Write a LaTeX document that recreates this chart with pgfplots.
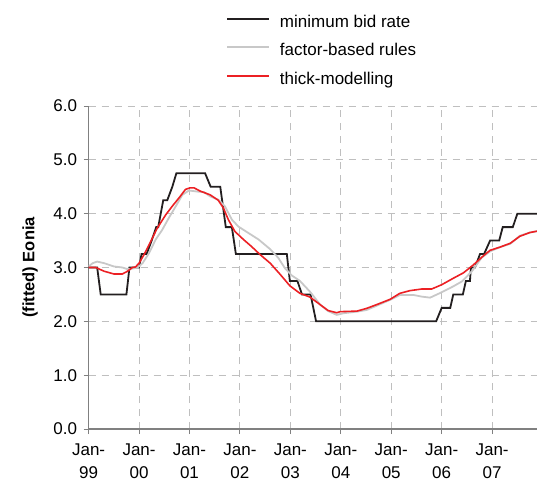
\documentclass[border=0pt]{standalone}
\usepackage{fontspec}
\setmainfont{Liberation Sans}
\usepackage{pgfplots}
\pgfplotsset{compat=1.18}
\definecolor{gridc}{RGB}{191,191,191}
\definecolor{axc}{RGB}{128,128,128}
\definecolor{redc}{RGB}{236,32,36}
\definecolor{grayc}{RGB}{200,200,200}
\definecolor{blackc}{RGB}{35,31,32}
\begin{document}
\begin{tikzpicture}
\useasboundingbox (-88.6pt,-61pt) rectangle (448.4pt,429pt);
\begin{axis}[
  at={(0pt,0pt)}, anchor=south west,
  scale only axis, width=448.4pt, height=323pt,
  xmin=1999, xmax=2007.89, ymin=0, ymax=6,
  axis x line*=bottom, axis y line*=left,
  axis line style={axc, line width=1.2pt},
  xtick={1999,2000,2001,2002,2003,2004,2005,2006,2007},
  ytick={0,1,2,3,4,5,6},
  xticklabels={{Jan-\\99},{Jan-\\00},{Jan-\\01},{Jan-\\02},{Jan-\\03},{Jan-\\04},{Jan-\\05},{Jan-\\06},{Jan-\\07}},
  xticklabel style={align=center, font=\fontsize{17}{23}\selectfont, yshift=-6pt},
  yticklabel style={font=\fontsize{17}{20}\selectfont, xshift=-3pt, /pgf/number format/.cd, fixed, fixed zerofill, precision=1},
  /pgf/number format/assume math mode=true,
  tick align=outside, major tick length=5pt,
  tick style={axc, line width=1pt},
  grid=major, major grid style={gridc, dash pattern=on 7pt off 6pt, line width=1pt},
  ylabel={(fitted) Eonia},
  ylabel style={font=\fontsize{16.5}{19}\selectfont\bfseries, at={(axis description cs:-0.1307,0.5)}, anchor=center},
  legend style={at={(axis description cs:0.3064,1.168)}, anchor=west, draw=none, fill=none, inner sep=0pt,
    font=\fontsize{17}{20}\selectfont, row sep=12pt, column sep=10pt,
    nodes={inner sep=0pt, text height=12.5pt, text depth=4pt}},
  legend cell align=left,
  legend image code/.code={\draw[#1] (0pt,4.5pt) -- (42pt,4.5pt);},
]
\addplot[blackc, line width=1.8pt] coordinates {
(1999.00,3.00) (1999.17,3.00) (1999.24,2.50) (1999.75,2.50) (1999.81,3.00) (2000.00,3.00)
(2000.05,3.25) (2000.15,3.25) (2000.25,3.50) (2000.34,3.75) (2000.38,3.75) (2000.48,4.25)
(2000.56,4.25) (2000.66,4.50) (2000.74,4.75) (2001.31,4.75) (2001.42,4.50) (2001.61,4.50)
(2001.72,3.75) (2001.84,3.75) (2001.92,3.25) (2002.93,3.25) (2002.99,2.75) (2003.14,2.75)
(2003.23,2.50) (2003.40,2.50) (2003.51,2.00) (2005.89,2.00) (2006.00,2.25) (2006.17,2.25)
(2006.23,2.50) (2006.42,2.50) (2006.48,2.75) (2006.56,2.75) (2006.58,3.00) (2006.66,3.00)
(2006.76,3.25) (2006.84,3.25) (2006.96,3.50) (2007.14,3.50) (2007.21,3.75) (2007.41,3.75)
(2007.50,4.00) (2007.92,4.00)
};
\addlegendentry{minimum bid rate}
\addplot[grayc, line width=1.8pt] coordinates {
(1999.00,3.02) (1999.08,3.08) (1999.17,3.11) (1999.31,3.08) (1999.50,3.02) (1999.67,3.00)
(1999.77,2.97) (1999.87,2.98) (1999.97,3.00) (2000.07,3.08) (2000.20,3.27) (2000.33,3.52)
(2000.46,3.70) (2000.59,3.92) (2000.73,4.14) (2000.86,4.35) (2000.99,4.43) (2001.16,4.41)
(2001.29,4.40) (2001.41,4.32) (2001.57,4.26) (2001.70,4.14) (2001.84,3.89) (2001.97,3.76)
(2002.17,3.64) (2002.37,3.52) (2002.60,3.34) (2002.76,3.18) (2002.89,2.99) (2003.03,2.85)
(2003.19,2.75) (2003.39,2.55) (2003.59,2.31) (2003.75,2.19) (2003.92,2.12) (2004.05,2.15)
(2004.32,2.18) (2004.51,2.21) (2004.71,2.29) (2004.98,2.40) (2005.17,2.49) (2005.44,2.49)
(2005.60,2.46) (2005.77,2.44) (2006.00,2.54) (2006.23,2.65) (2006.40,2.74) (2006.60,2.93)
(2006.79,3.18) (2006.96,3.30) (2007.16,3.38) (2007.36,3.44) (2007.55,3.59) (2007.75,3.65)
(2007.92,3.68)
};
\addlegendentry{factor-based rules}
\addplot[redc, line width=1.6pt] coordinates {
(1999.00,3.00) (1999.14,3.00) (1999.31,2.93) (1999.50,2.88) (1999.67,2.88) (1999.77,2.93)
(1999.87,3.00) (1999.93,3.01) (2000.00,3.08) (2000.10,3.24) (2000.23,3.48) (2000.36,3.73)
(2000.53,3.98) (2000.66,4.14) (2000.79,4.29) (2000.92,4.45) (2001.01,4.48) (2001.09,4.48)
(2001.21,4.42) (2001.41,4.35) (2001.57,4.25) (2001.67,4.11) (2001.77,3.89) (2001.90,3.67)
(2002.07,3.52) (2002.23,3.39) (2002.40,3.24) (2002.60,3.08) (2002.80,2.87) (2002.99,2.66)
(2003.19,2.52) (2003.39,2.45) (2003.59,2.31) (2003.75,2.20) (2003.92,2.16) (2003.99,2.18)
(2004.32,2.19) (2004.51,2.24) (2004.71,2.31) (2004.98,2.41) (2005.17,2.52) (2005.37,2.57)
(2005.60,2.60) (2005.80,2.60) (2006.00,2.68) (2006.23,2.80) (2006.43,2.90) (2006.63,3.05)
(2006.83,3.22) (2006.96,3.32) (2007.16,3.38) (2007.36,3.45) (2007.55,3.58) (2007.75,3.65)
(2007.92,3.68)
};
\addlegendentry{thick-modelling}
\end{axis}
\end{tikzpicture}
\end{document}
